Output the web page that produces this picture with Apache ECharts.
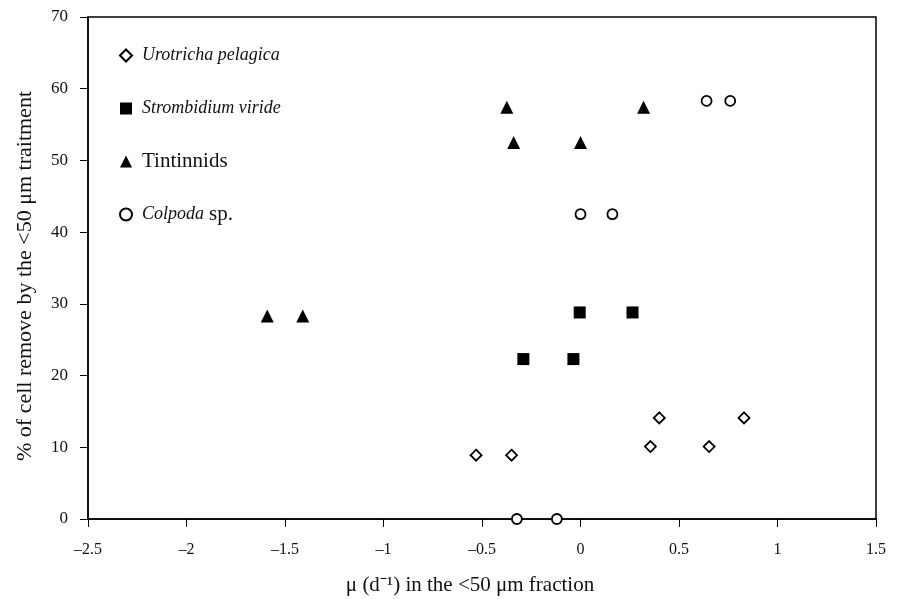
<!DOCTYPE html>
<html>
<head>
<meta charset="utf-8">
<script src="https://cdn.jsdelivr.net/npm/echarts@6/dist/echarts.min.js"></script>
<style>html,body{margin:0;padding:0;background:#fff}#c{width:905px;height:599px}</style>
</head>
<body>
<div id="c"></div>
<script>
const seriesNames = ['Urotricha pelagica', 'Strombidium viride', 'Tintinnids', 'Colpoda sp.'];
const urotrichaX = [-0.53, -0.35, 0.355, 0.653, 0.40, 0.83];
const urotrichaY = [8.9, 8.9, 10.1, 10.1, 14.1, 14.1];
const strombidiumX = [-0.29, -0.036, -0.004, 0.264];
const strombidiumY = [22.3, 22.3, 28.8, 28.8];
const tintinnidsX = [-1.59, -1.41, -0.374, 0.32, -0.339, 0.0];
const tintinnidsY = [28.3, 28.3, 57.4, 57.4, 52.5, 52.5];
const colpodaX = [-0.323, -0.12, 0.0, 0.162, 0.64, 0.76];
const colpodaY = [0, 0, 42.5, 42.5, 58.3, 58.3];
const xTitle = 'μ (d⁻¹) in the <50 μm fraction';
const yTitle = '% of cell remove by the <50 μm traitment';

const FONT = '"Liberation Serif", "Times New Roman", serif';
const pairs = (xs, ys) => xs.map((x, i) => [x, ys[i]]);

const chart = echarts.init(document.getElementById('c'), null, {renderer: 'canvas'});
const openStyle = {color: '#fff', borderColor: '#000', borderWidth: 1.8, opacity: 1};
const fillStyle = {color: '#000', borderColor: '#000', borderWidth: 0, opacity: 1};

chart.setOption({
  animation: false,
  backgroundColor: '#fff',
  textStyle: {fontFamily: FONT, color: '#111'},
  grid: {left: 88, right: 29, top: 17, bottom: 80, show: true, borderColor: '#000', borderWidth: 1.5, containLabel: false, outerBoundsMode: 'none'},
  legend: {
    orient: 'vertical', left: 114, top: 40, itemGap: 32, itemWidth: 12, itemHeight: 12,
    data: seriesNames,
    textStyle: {fontFamily: FONT, fontSize: 20, lineHeight: 21, color: '#111',
      rich: {
        s: {width: 5},
        i: {fontFamily: FONT, fontStyle: 'italic', fontSize: 18, color: '#111'},
        n: {fontFamily: FONT, fontSize: 21, color: '#111'}
      }},
    formatter: function (name) {
      if (name === 'Colpoda sp.') return '{s|}{i|Colpoda} {n|sp.}';
      if (name === 'Tintinnids') return '{s|}{n|Tintinnids}';
      return '{s|}{i|' + name + '}';
    }
  },
  xAxis: {
    type: 'value', min: -2.5, max: 1.5, interval: 0.5,
    name: xTitle, nameLocation: 'middle', nameGap: 56,
    nameTextStyle: {fontFamily: FONT, fontSize: 21, color: '#111', padding: [0, 24, 0, 0]},
    axisLine: {show: true, onZero: false, lineStyle: {color: '#000', width: 1.5}},
    axisTick: {show: true, inside: false, length: 8, lineStyle: {color: '#000', width: 1}},
    splitLine: {show: false},
    axisLabel: {fontFamily: FONT, fontSize: 16, color: '#111', margin: 23,
      formatter: v => String(v).replace('-', '\u2013')}
  },
  yAxis: {
    type: 'value', min: 0, max: 70, interval: 10,
    name: yTitle, nameLocation: 'middle', nameGap: 52, nameRotate: 90,
    nameTextStyle: {fontFamily: FONT, fontSize: 22, color: '#111', padding: [0, 16, 0, 0]},
    axisLine: {show: true, onZero: false, lineStyle: {color: '#000', width: 1.5}},
    axisTick: {show: true, inside: false, length: 8, lineStyle: {color: '#000', width: 1}},
    splitLine: {show: false},
    axisLabel: {fontFamily: FONT, fontSize: 17, color: '#111', margin: 20}
  },
  series: [
    {name: seriesNames[0], type: 'scatter', symbol: 'diamond', symbolSize: 11, itemStyle: openStyle, data: pairs(urotrichaX, urotrichaY)},
    {name: seriesNames[1], type: 'scatter', symbol: 'rect', symbolSize: 12, itemStyle: fillStyle, data: pairs(strombidiumX, strombidiumY)},
    {name: seriesNames[2], type: 'scatter', symbol: 'triangle', symbolSize: 13, itemStyle: fillStyle, data: pairs(tintinnidsX, tintinnidsY)},
    {name: seriesNames[3], type: 'scatter', symbol: 'circle', symbolSize: 10, itemStyle: openStyle, data: pairs(colpodaX, colpodaY)}
  ]
});
</script>
</body>
</html>
